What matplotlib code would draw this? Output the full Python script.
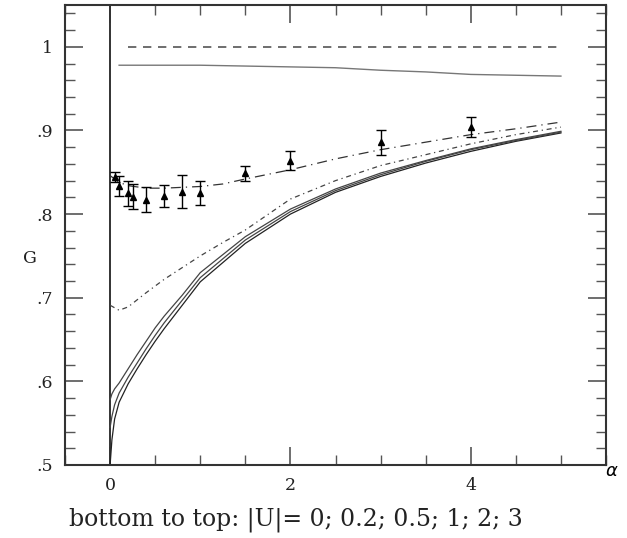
import numpy as np
import matplotlib.pyplot as plt
from matplotlib.ticker import MultipleLocator, FixedLocator, FixedFormatter

plt.rcParams['font.family'] = ['DejaVu Serif']

# curves (bottom to top: |U| = 0; 0.2; 0.5; 1; 2; 3)
x_lo = [0, 0.02, 0.05, 0.1, 0.2, 0.3, 0.4, 0.5, 0.6, 0.8, 1.0, 1.5, 2, 2.5, 3, 3.5, 4, 4.5, 5]
g_u0 = [0.5, 0.53, 0.555, 0.575, 0.597, 0.615, 0.632, 0.648, 0.663, 0.691, 0.719,
        0.765, 0.800, 0.826, 0.845, 0.861, 0.875, 0.887, 0.897]
g_u02 = [0.545, 0.558, 0.572, 0.586, 0.605, 0.622, 0.639, 0.655, 0.670, 0.697, 0.724,
         0.769, 0.803, 0.828, 0.847, 0.863, 0.877, 0.888, 0.898]
g_u05 = [0.578, 0.585, 0.591, 0.598, 0.615, 0.632, 0.648, 0.664, 0.678, 0.703, 0.730,
         0.773, 0.806, 0.830, 0.849, 0.864, 0.878, 0.889, 0.899]

x_u1 = [0, 0.1, 0.2, 0.4, 0.6, 0.8, 1.0, 1.25, 1.5, 2, 2.5, 3, 3.5, 4, 4.5, 5]
g_u1 = [0.691, 0.685, 0.689, 0.706, 0.722, 0.736, 0.750, 0.766, 0.781, 0.818,
        0.840, 0.858, 0.871, 0.884, 0.895, 0.904]

x_u2 = [0, 0.1, 0.2, 0.4, 0.6, 0.8, 1.0, 1.25, 1.5, 2, 2.5, 3, 3.5, 4, 4.5, 5]
g_u2 = [0.846, 0.838, 0.834, 0.831, 0.831, 0.832, 0.833, 0.836, 0.842, 0.853,
        0.866, 0.877, 0.886, 0.895, 0.902, 0.910]

x_u3 = [0.1, 1, 2, 2.5, 3, 3.5, 4, 4.5, 5]
g_u3 = [0.978, 0.978, 0.976, 0.975, 0.972, 0.970, 0.967, 0.966, 0.965]

x_ref = [0.2, 5]
g_ref = [1.0, 1.0]

# simulation points with error bars
x_pts = [0.05, 0.1, 0.2, 0.25, 0.4, 0.6, 0.8, 1.0, 1.5, 2.0, 3.0, 4.0]
g_pts = [0.844, 0.834, 0.825, 0.821, 0.817, 0.822, 0.827, 0.825, 0.849, 0.864, 0.886, 0.904]
g_err = [0.006, 0.012, 0.015, 0.015, 0.015, 0.013, 0.020, 0.014, 0.009, 0.011, 0.015, 0.012]

fig = plt.figure(figsize=(6.27, 5.38), dpi=100)
ax = fig.add_axes([0.1037, 0.1357, 0.8628, 0.855])

ax.axvline(0, color='#333333', lw=1.4)
ax.plot(x_ref, g_ref, color='#555555', lw=1.2, ls=(0, (5, 4)))
ax.plot(x_u3, g_u3, color='#777777', lw=1.0)
ax.plot(x_lo, g_u0, color='#222222', lw=0.9)
ax.plot(x_lo, g_u02, color='#444444', lw=0.9)
ax.plot(x_lo, g_u05, color='#444444', lw=0.9)
ax.plot(x_u1, g_u1, color='#444444', lw=0.9, ls=(0, (4, 3, 1, 3)))
ax.plot(x_u2, g_u2, color='#333333', lw=0.9, ls=(0, (8, 4, 1, 4)))
ax.errorbar(x_pts, g_pts, yerr=g_err, fmt='^', color='black', ms=4.5,
            ecolor='black', elinewidth=1.0, capsize=3.5, capthick=1.0)

ax.set_xlim(-0.5, 5.5)
ax.set_ylim(0.5, 1.05)
ax.xaxis.set_major_locator(FixedLocator([0, 2, 4]))
ax.xaxis.set_minor_locator(MultipleLocator(0.5))
ax.yaxis.set_major_locator(FixedLocator([0.5, 0.6, 0.7, 0.8, 0.9, 1.0]))
ax.yaxis.set_major_formatter(FixedFormatter(['.5', '.6', '.7', '.8', '.9', '1']))
ax.yaxis.set_minor_locator(MultipleLocator(0.02))
ax.tick_params(which='both', direction='in', top=True, right=True,
               labelsize=12.5, color='#555555', labelcolor='#222222')
ax.tick_params(which='major', length=13, width=1.2, pad=9)
ax.tick_params(which='minor', length=7, width=1.0)
for s in ax.spines.values():
    s.set_linewidth(1.5)
    s.set_color('#333333')

fig.text(0.048, 0.52, 'G', fontsize=12.5, ha='center', va='center', color='#222222')
fig.text(0.976, 0.125, r'$\alpha$', fontsize=13, ha='center', va='center')
fig.text(0.472, 0.034, 'bottom to top: |U|= 0; 0.2; 0.5; 1; 2; 3',
         fontsize=17, ha='center', va='center', color='#222222')

fig.savefig('out.png', dpi=100)
